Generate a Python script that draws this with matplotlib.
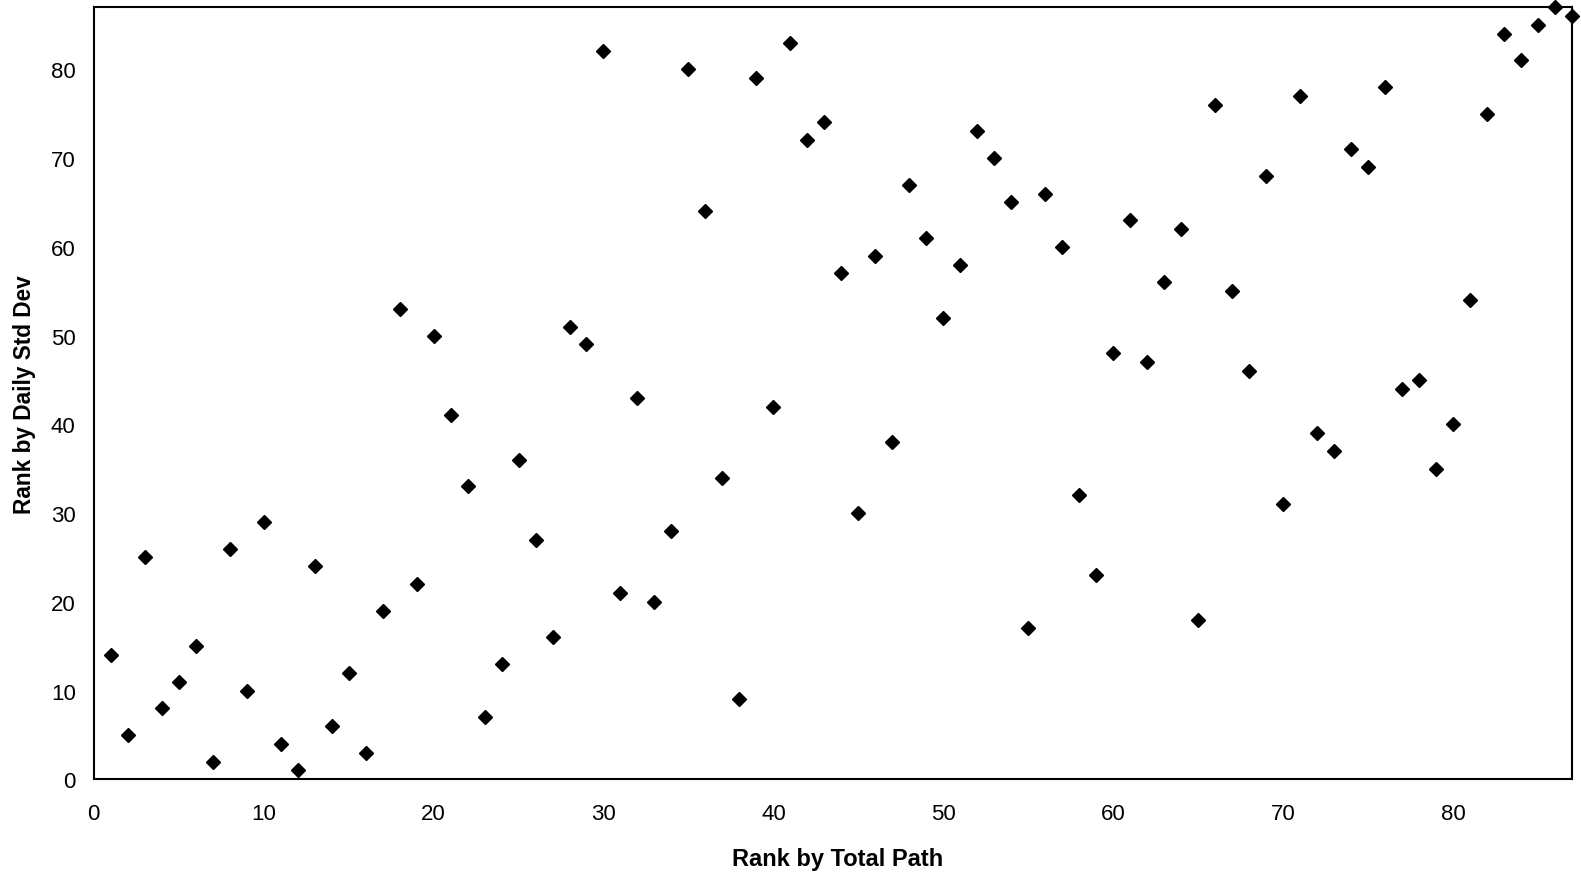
import matplotlib
matplotlib.use("Agg")
import matplotlib.pyplot as plt

plt.rcParams['font.family'] = ['Liberation Sans', 'DejaVu Sans']

# rank by total path (x) vs rank by daily std dev (y)
rank_total_path = list(range(1, 88))
rank_daily_std = [14, 5, 25, 8, 11, 15, 2, 26, 10, 29,
                  4, 1, 24, 6, 12, 3, 19, 53, 22, 50,
                  41, 33, 7, 13, 36, 27, 16, 51, 49, 82,
                  21, 43, 20, 28, 80, 64, 34, 9, 79, 42,
                  83, 72, 74, 57, 30, 59, 38, 67, 61, 52,
                  58, 73, 70, 65, 17, 66, 60, 32, 23, 48,
                  63, 47, 56, 62, 18, 76, 55, 46, 68, 31,
                  77, 39, 37, 71, 69, 78, 44, 45, 35, 40,
                  54, 75, 84, 81, 85, 87, 86]
x_ticks = [0, 10, 20, 30, 40, 50, 60, 70, 80]
y_ticks = [0, 10, 20, 30, 40, 50, 60, 70, 80]

fig = plt.figure(figsize=(15.81, 8.79), dpi=100)
ax = fig.add_axes([0.0593, 0.1122, 0.935, 0.8786])

ax.plot(rank_total_path, rank_daily_std, linestyle='none', marker='D',
        markersize=7.2, color='black', clip_on=False)

ax.set_xlim(0, 87)
ax.set_ylim(0, 87)
ax.set_xticks(x_ticks)
ax.set_yticks(y_ticks)
ax.tick_params(axis='both', length=0, labelsize=16)
ax.tick_params(axis='x', pad=17)
ax.tick_params(axis='y', pad=13)
for s in ax.spines.values():
    s.set_linewidth(1.5)
    s.set_color('black')

ax.set_xlabel('Rank by Total Path', fontsize=17, fontweight='bold')
ax.xaxis.set_label_coords(0.503, -0.088)
ax.set_ylabel('Rank by Daily Std Dev', fontsize=16.3, fontweight='bold', labelpad=11)

fig.savefig('out.png', dpi=100)
